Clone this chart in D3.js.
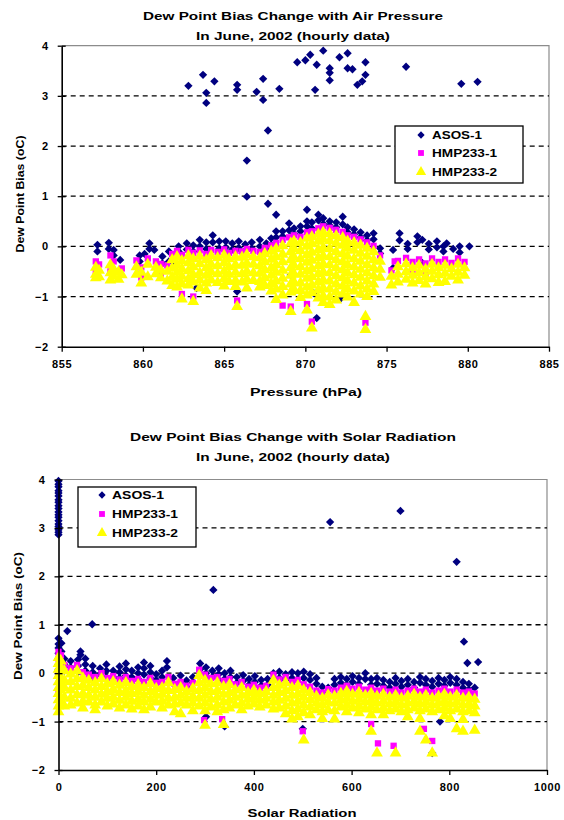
<!DOCTYPE html>
<html>
<head>
<meta charset="utf-8">
<script src="https://cdn.jsdelivr.net/npm/d3@7"></script>
<style>
  body { margin: 0; background: #fff; }
  svg { display: block; font-family: "Liberation Sans", Arial, sans-serif; font-weight: bold; }
</style>
</head>
<body>
<script>
// dew point bias scatter, two panels (pressure / solar radiation)
const pressureTicks = [855, 860, 865, 870, 875, 880, 885];
const radiationTicks = [0, 200, 400, 600, 800, 1000];
const biasTicks = [-2, -1, 0, 1, 2, 3, 4];
const seriesNames = ["ASOS-1", "HMP233-1", "HMP233-2"];

// each entry: [x, [bias values read at that x]]
const asosPres = [
  [857.2, [0.03, -0.1]], [857.9, [0.07, -0.05]], [858.2, [-0.07, -0.18]], [858.6, [-0.27]],
  [859.8, [-0.3, -0.18]], [860.1, [-0.15]], [860.4, [0.06, -0.05]], [860.7, [-0.07]],
  [861.2, [-0.34, -0.2]], [861.6, [-0.1, -0.3]], [861.9, [-0.3, -0.18]],
  [862.2, [0.0, -0.1]], [862.7, [0.06, -0.06]], [863.1, [0.02, -0.1]], [863.5, [0.13, 0.0]],
  [863.9, [0.08, -0.05]], [864.3, [0.22, 0.08]], [864.7, [0.1, -0.04]], [865.1, [0.1, -0.02]],
  [865.5, [0.06, -0.06]], [865.9, [0.1, -0.03]], [866.3, [0.04, -0.08]], [866.7, [0.08, -0.04]],
  [867.2, [0.13, 0.0]], [867.6, [0.06, -0.06]], [867.9, [0.16, 0.03]],
  [868.2, [0.63, 0.3, 0.18]], [868.6, [0.3, 0.2]], [869.0, [0.46, 0.32]], [869.3, [0.36, 0.25]],
  [869.7, [0.4, 0.3]], [870.1, [0.73, 0.5, 0.4]], [870.4, [0.48, 0.36]], [870.8, [0.63, 0.52]],
  [871.1, [0.56, 0.45]], [871.5, [0.5, 0.42]], [871.9, [0.48, 0.38]], [872.3, [0.59, 0.44]],
  [872.6, [0.38, 0.28]], [873.0, [0.34, 0.24]], [873.4, [0.28, 0.18]], [873.8, [0.22, 0.12]],
  [874.2, [0.26, 0.14]], [874.6, [-0.04, -0.14]],
  [875.4, [-0.43, -0.07]], [875.8, [0.26, 0.12]], [876.3, [0.05, -0.05]], [876.9, [0.2, 0.08]],
  [877.2, [-0.33, 0.13]], [877.6, [0.05, -0.06]], [878.1, [0.1, -0.02]], [878.5, [0.0, -0.1]],
  [878.7, [0.06]], [879.1, [-0.05]], [879.5, [0.0, -0.12]], [880.1, [0.0]],
  [863.3, [-0.83]], [865.8, [-0.9]], [869.1, [-0.57]], [870.5, [-0.93]], [870.7, [-1.43]], [872.2, [-1.03]],
  [862.8, [3.2]], [863.7, [3.42]], [863.9, [3.06, 2.86]], [864.4, [3.29]], [865.8, [3.22, 3.12]],
  [866.4, [1.71, 0.99]], [867.0, [3.08]], [867.4, [3.34, 2.92]], [867.7, [2.31, 0.85]], [868.4, [3.14]],
  [869.5, [3.67]], [870.0, [3.71]], [870.3, [3.82]], [870.6, [3.12]], [870.7, [3.62]], [871.1, [3.9]],
  [871.5, [3.55, 3.46, 3.31]], [872.1, [3.77]], [872.6, [3.85, 3.55]], [872.9, [3.53]], [873.2, [3.22]],
  [873.5, [3.29]], [873.7, [3.67, 3.42]], [876.2, [3.58]], [879.6, [3.24]], [880.6, [3.28]]
];

const hmp1Pres = [
  [857.1, [-0.3, -0.5]], [857.3, [-0.36]], [858.0, [-0.18, -0.5]], [858.2, [-0.3]], [858.5, [-0.5]], [858.7, [-0.44]],
  [859.6, [-0.28]], [859.9, [-0.42, -0.62]], [860.3, [-0.24]], [860.8, [-0.3]], [861.1, [-0.35, -0.55]],
  [861.5, [-0.38]], [861.8, [-0.15]],
  [862.1, [-0.09, -0.2]], [862.4, [-0.17, -0.95]], [862.8, [-0.07]], [863.1, [-0.13, -1.0]], [863.5, [-0.08]],
  [863.9, [-0.15]], [864.2, [-0.07]], [864.6, [-0.11]], [865.0, [-0.06]], [865.3, [-0.13]], [865.7, [-0.09]],
  [865.8, [-1.08]], [866.1, [-0.1]], [866.4, [-0.05]], [866.8, [-0.09]], [867.2, [-0.11]], [867.5, [-0.03]],
  [867.9, [0.02]], [868.2, [0.07]], [868.6, [0.13, -1.18]], [869.0, [0.18]], [869.1, [-1.2]], [869.3, [0.22]],
  [869.7, [0.19]], [870.1, [0.28, -1.15]], [870.4, [0.3, -1.5]], [870.8, [0.36]], [871.1, [0.4]],
  [871.5, [0.37]], [871.9, [0.33]], [872.3, [0.29]], [872.6, [0.22]], [873.0, [0.19]], [873.4, [0.14]],
  [873.7, [-1.52]], [873.8, [0.08]], [874.2, [0.01]], [874.6, [-0.18]],
  [875.3, [-0.48]], [875.5, [-0.3]], [875.7, [-0.29]], [876.2, [-0.23]], [876.6, [-0.31, -0.55]],
  [877.0, [-0.26]], [877.4, [-0.34, -0.55]], [877.8, [-0.24]], [878.2, [-0.31]], [878.6, [-0.26]],
  [879.0, [-0.33]], [879.4, [-0.24]], [879.8, [-0.31]]
];

const hmp2Pres = [
  [857.1, [-0.42, -0.56, -0.63]], [857.3, [-0.48, -0.61]], [858.0, [-0.37, -0.53, -0.67]], [858.2, [-0.46, -0.6]],
  [858.5, [-0.51, -0.66]], [858.7, [-0.57]], [859.6, [-0.41, -0.56]], [859.9, [-0.52, -0.73]],
  [860.3, [-0.36, -0.61]], [860.8, [-0.42, -0.55]], [861.1, [-0.47, -0.63]], [861.5, [-0.5, -0.69]],
  [861.8, [-0.27, -0.44, -0.62, -0.78]],
  [862.1, [-0.21, -0.37, -0.52, -0.66, -0.81]], [862.4, [-0.29, -0.45, -0.6, -0.75, -1.05]],
  [862.8, [-0.19, -0.33, -0.49, -0.65, -0.77]], [863.1, [-0.25, -0.41, -0.57, -0.71, -1.1]],
  [863.5, [-0.2, -0.35, -0.53, -0.67, -0.83]], [863.9, [-0.27, -0.43, -0.58, -0.73, -0.88]],
  [864.2, [-0.19, -0.36, -0.51, -0.67]], [864.6, [-0.23, -0.39, -0.55, -0.72]],
  [865.0, [-0.18, -0.33, -0.5, -0.65, -0.79]], [865.3, [-0.25, -0.41, -0.56, -0.7]],
  [865.7, [-0.21, -0.37, -0.52, -0.68, -0.8]], [865.8, [-1.2]], [866.1, [-0.22, -0.38, -0.55, -0.71]],
  [866.4, [-0.17, -0.34, -0.5, -0.66, -0.83]], [866.8, [-0.21, -0.36, -0.53, -0.68]],
  [867.2, [-0.23, -0.39, -0.54, -0.7, -0.81]], [867.5, [-0.15, -0.31, -0.47, -0.63, -0.78]],
  [867.9, [-0.1, -0.26, -0.43, -0.58, -0.74, -0.89]], [868.2, [-0.05, -0.21, -0.37, -0.52, -0.69, -0.85, -1.06]],
  [868.6, [0.01, -0.16, -0.31, -0.48, -0.64, -0.8, -0.97]], [869.1, [0.06, -0.11, -0.27, -0.43, -0.58, -0.75, -0.91, -1.3]],
  [869.3, [0.1, -0.05, -0.22, -0.38, -0.55, -0.71, -0.86]], [869.7, [0.07, -0.09, -0.25, -0.41, -0.56, -0.73, -0.88, -1.02]],
  [870.1, [0.16, 0.0, -0.17, -0.32, -0.49, -0.64, -0.81, -0.97, -1.27]],
  [870.4, [0.19, 0.05, -0.12, -0.28, -0.45, -0.61, -0.77, -0.92, -1.63]],
  [870.8, [0.24, 0.1, -0.07, -0.23, -0.39, -0.55, -0.71, -0.87, -1.03]],
  [871.1, [0.28, 0.14, -0.03, -0.19, -0.35, -0.51, -0.67, -0.83, -0.99, -1.12]],
  [871.5, [0.25, 0.11, -0.05, -0.21, -0.37, -0.53, -0.69, -0.85, -1.01, -1.16]],
  [871.9, [0.21, 0.06, -0.11, -0.27, -0.43, -0.59, -0.75, -0.91, -1.07]],
  [872.3, [0.17, 0.02, -0.15, -0.31, -0.47, -0.63, -0.79, -0.95]],
  [872.6, [0.1, -0.04, -0.2, -0.37, -0.53, -0.69, -0.85, -1.01]],
  [873.0, [0.07, -0.08, -0.25, -0.41, -0.57, -0.73, -0.89, -1.12]],
  [873.4, [0.02, -0.14, -0.3, -0.46, -0.62, -0.79, -0.95]], [873.7, [-1.4, -1.66]],
  [873.8, [-0.04, -0.2, -0.37, -0.53, -0.69, -0.85, -1.0]], [874.2, [-0.11, -0.27, -0.43, -0.59, -0.75, -0.9]],
  [874.6, [-0.3, -0.46, -0.62]],
  [875.3, [-0.6, -0.77]], [875.7, [-0.41, -0.56, -0.71]], [876.2, [-0.35, -0.51, -0.66]],
  [876.6, [-0.43, -0.58, -0.73]], [877.0, [-0.38, -0.53, -0.68]], [877.4, [-0.46, -0.61, -0.75]],
  [877.8, [-0.36, -0.5, -0.65]], [878.2, [-0.43, -0.57, -0.72]], [878.6, [-0.38, -0.54, -0.7]],
  [879.0, [-0.45, -0.6]], [879.4, [-0.36, -0.52, -0.67]], [879.8, [-0.43, -0.58]]
];

const asosSolar = [
  [0, [3.97, 3.9, 3.85, 3.77, 3.72, 3.66, 3.58, 3.53, 3.46, 3.4, 3.33, 3.27, 3.22, 3.15, 3.08, 3.03, 2.96, 2.91, 2.86]],
  [0, [0.72, 0.6, 0.52, 0.41, 0.3, 0.18, 0.08]],
  [6, [0.62, 0.45, 0.3]], [18, [0.87]], [12, [0.3, 0.18, 0.05]], [25, [0.25, 0.12]], [40, [0.28, 0.15, 0.02]],
  [45, [0.45, 0.38]], [55, [0.3, 0.18, 0.05]], [69, [1.01]], [70, [0.15, 0.02, -0.1]], [85, [0.1, -0.02]],
  [98, [0.18, 0.05, -0.08]], [112, [0.05, -0.08]], [125, [0.14, 0.02, -0.1]], [138, [0.2, 0.08, -0.05]],
  [150, [0.05, -0.08]], [163, [0.12, 0.0, -0.12]], [175, [0.22, 0.1, -0.03]], [188, [0.15, 0.02, -0.1]],
  [200, [-0.02, -0.14]], [212, [0.05, -0.08]], [222, [0.25, 0.12]], [235, [-0.1, -0.22]], [250, [-0.05, -0.18]],
  [262, [-0.15, -0.28]], [275, [-0.08, -0.2]], [290, [0.2, 0.08, -0.05]], [302, [0.12, 0.0, -0.12, -0.9]],
  [315, [0.05, -0.08]], [317, [1.72]], [328, [0.1, -0.02, -0.14]], [340, [0.0, -0.12, -1.1]], [352, [0.05, -0.08]],
  [365, [-0.08, -0.2]], [378, [-0.04, -0.16]], [390, [-0.12, -0.24]], [402, [-0.06, -0.18]], [415, [-0.14, -0.26]],
  [428, [-0.12, -0.24]], [440, [0.0, -0.12]], [452, [0.03, -0.1]], [465, [-0.02, -0.14]], [478, [0.02, -0.1]],
  [490, [0.0, -0.12]], [500, [-1.15]], [502, [0.03, -0.1]], [515, [-0.02, -0.14]], [528, [-0.1, -0.22]],
  [540, [-0.28, -0.4]], [552, [-0.3]], [556, [3.12]], [565, [-0.12, -0.24]], [578, [-0.08, -0.2]],
  [590, [-0.12, -0.24]], [602, [-0.06, -0.18]], [615, [-0.1, -0.22]], [628, [0.0, -0.12]], [640, [-0.12, -0.24]],
  [652, [-0.1, -0.22]], [665, [-0.14, -0.26]], [678, [-0.18, -0.3]], [690, [-0.1, -0.22]], [700, [3.35]],
  [702, [-0.16, -0.28]], [715, [-0.12, -0.24]], [728, [-0.18, -0.3]], [740, [-0.08, -0.2]], [752, [-0.12, -0.24]],
  [765, [-0.16, -0.28, -1.65]], [778, [-0.1, -0.22]], [781, [-1.0]], [790, [-0.14, -0.26]], [802, [-0.08, -0.2]],
  [815, [-0.12, -0.24, 2.3]], [828, [-0.18, -0.3]], [830, [0.65]], [837, [0.21]], [840, [-0.22, -0.34]],
  [852, [-0.3]], [859, [0.23]]
];

const hmp1Solar = [
  [0, [0.44, 0.3, 0.0, -0.4]], [5, [0.37]], [12, [0.17]], [25, [0.1]], [38, [0.17]], [50, [0.02]], [62, [-0.03]],
  [75, [-0.08]], [88, [0.0]], [100, [-0.1]], [112, [-0.06]], [125, [-0.13]], [138, [-0.08]], [150, [-0.16]],
  [163, [-0.12]], [175, [-0.18]], [188, [-0.1]], [200, [-0.2]], [212, [-0.18]], [225, [-0.08]], [238, [-0.22]],
  [250, [-0.18]], [262, [-0.26]], [275, [-0.2]], [288, [0.07]], [298, [-0.97]], [300, [-0.03]], [312, [-0.1]],
  [325, [-0.08]], [335, [-0.95]], [338, [-0.16]], [350, [-0.12]], [362, [-0.23]], [375, [-0.18]], [388, [-0.28]],
  [400, [-0.24]], [412, [-0.3]], [425, [-0.26]], [440, [-0.03]], [452, [-0.13]], [465, [-0.08]], [478, [-0.18]],
  [490, [-0.14]], [500, [-1.2]], [502, [-0.23]], [515, [-0.28]], [528, [-0.36]], [540, [-0.4]], [552, [-0.33]],
  [565, [-0.36]], [578, [-0.3]], [590, [-0.26]], [602, [-0.32]], [615, [-0.28]], [628, [-0.34]], [640, [-0.3, -1.05]],
  [652, [-0.36]], [654, [-1.45]], [665, [-0.32]], [678, [-0.38]], [686, [-1.5]], [690, [-0.34]], [702, [-0.4]],
  [715, [-0.36]], [728, [-0.32]], [740, [-0.38]], [748, [-1.15]], [752, [-0.34]], [765, [-0.4, -1.4]], [778, [-0.36]],
  [790, [-0.32]], [802, [-0.38]], [815, [-0.34]], [828, [-0.4]], [840, [-0.38]], [852, [-0.42]]
];

const hmp2Solar = [
  [0, [0.32, 0.2, 0.08, -0.05, -0.18, -0.3, -0.42, -0.55, -0.68, -0.8]], [5, [0.25, 0.1, -0.1, -0.35, -0.6]],
  [12, [0.05, -0.15, -0.3, -0.5, -0.68]], [25, [-0.02, -0.18, -0.35, -0.52, -0.66]], [38, [0.05, -0.12, -0.28, -0.45, -0.62]],
  [50, [-0.1, -0.25, -0.42, -0.58, -0.72]], [62, [-0.15, -0.3, -0.46, -0.6]], [75, [-0.2, -0.35, -0.5, -0.66, -0.76]],
  [88, [-0.12, -0.28, -0.44, -0.6]], [100, [-0.22, -0.38, -0.52, -0.68]], [112, [-0.18, -0.34, -0.5, -0.64]],
  [125, [-0.25, -0.4, -0.56, -0.72]], [138, [-0.2, -0.36, -0.5, -0.66]], [150, [-0.28, -0.42, -0.58, -0.74]],
  [163, [-0.24, -0.38, -0.54, -0.68]], [175, [-0.3, -0.46, -0.6, -0.76]], [188, [-0.22, -0.38, -0.54, -0.7]],
  [200, [-0.32, -0.46, -0.6]], [212, [-0.3, -0.44, -0.58, -0.72]], [225, [-0.2, -0.36, -0.52, -0.66]],
  [238, [-0.34, -0.5, -0.64, -0.8]], [250, [-0.3, -0.46, -0.62, -0.84]], [262, [-0.38, -0.52, -0.66]],
  [275, [-0.32, -0.48, -0.62, -0.78]], [288, [-0.05, -0.2, -0.36, -0.52, -0.68]],
  [300, [-0.15, -0.3, -0.46, -0.62, -0.78, -1.08]], [312, [-0.22, -0.38, -0.54, -0.7]],
  [325, [-0.2, -0.36, -0.5, -0.66, -0.8]], [338, [-0.28, -0.44, -0.6, -0.76, -1.06]], [350, [-0.24, -0.4, -0.56, -0.72]],
  [362, [-0.35, -0.5, -0.66]], [375, [-0.3, -0.46, -0.62, -0.76]], [388, [-0.4, -0.54, -0.68]], [400, [-0.36, -0.5, -0.64]],
  [412, [-0.42, -0.56, -0.7]], [425, [-0.38, -0.52, -0.66]], [440, [-0.15, -0.3, -0.46, -0.6, -0.74]],
  [452, [-0.25, -0.4, -0.56, -0.72]], [465, [-0.2, -0.36, -0.52, -0.68, -0.84]], [478, [-0.3, -0.46, -0.62, -0.78, -0.95]],
  [490, [-0.26, -0.42, -0.58, -0.74, -0.9]], [502, [-0.35, -0.5, -0.66, -0.82, -1.38]], [515, [-0.4, -0.55, -0.7, -0.86]],
  [528, [-0.48, -0.62, -0.76]], [540, [-0.52, -0.66, -0.8, -0.94]], [552, [-0.45, -0.6, -0.76]],
  [565, [-0.48, -0.62, -0.78, -0.95]], [578, [-0.42, -0.56, -0.7]], [590, [-0.38, -0.52, -0.66, -0.8]],
  [602, [-0.44, -0.58, -0.72]], [615, [-0.4, -0.54, -0.68, -0.82]], [628, [-0.46, -0.6, -0.74]],
  [640, [-0.42, -0.56, -0.7, -0.86, -1.2]], [652, [-0.48, -0.62, -0.76, -1.65]], [665, [-0.44, -0.58, -0.72, -0.86]],
  [678, [-0.5, -0.64, -0.78]], [690, [-0.46, -0.6, -0.74, -1.65]], [702, [-0.52, -0.66, -0.8]],
  [715, [-0.48, -0.62, -0.76, -0.9]], [728, [-0.44, -0.58, -0.72]], [740, [-0.5, -0.64, -0.78, -0.94, -1.2]],
  [752, [-0.46, -0.6, -0.74, -1.38]], [765, [-0.52, -0.66, -0.8, -1.65]], [778, [-0.48, -0.62, -0.76]],
  [790, [-0.44, -0.58, -0.72, -0.88]], [802, [-0.5, -0.64, -0.78, -0.94]], [815, [-0.46, -0.6, -0.74, -1.15]],
  [828, [-0.52, -0.66, -0.8, -0.96, -1.2]], [840, [-0.5, -0.64, -0.78]], [852, [-0.54, -0.68, -0.82, -1.18]]
];

const markerStyle = [
  { color: "#000080", type: d3.symbolDiamond2, size: 44 },
  { color: "#FF00FF", type: d3.symbolSquare,   size: 40 },
  { color: "#FFFF00", type: d3.symbolTriangle, size: 60 }
];
const legendSizes = [34, 34, 46];

const toPoints = cols => cols.flatMap(([x, ys]) => ys.map(v => [x, v]));

const W = 564, H = 820;
const svg = d3.select("body").append("svg").attr("width", W).attr("height", H);

function drawPanel(cfg) {
  const x = d3.scaleLinear().domain(cfg.xDomain).range(cfg.xRange);
  const y = d3.scaleLinear().domain([-2, 4]).range(cfg.yRange);
  const [x0, x1] = cfg.xRange, [y0, y1] = cfg.yRange;
  const g = svg.append("g");

  // title
  cfg.title.forEach((t, i) => {
    g.append("text")
      .attr("x", 293).attr("y", cfg.titleY[i])
      .attr("text-anchor", "middle").attr("font-size", 11.5)
      .attr("textLength", cfg.titleW[i]).attr("lengthAdjust", "spacingAndGlyphs")
      .text(t);
  });

  // frame top/right (grey)
  g.append("path")
    .attr("d", `M${x0},${y1}H${x1}V${y0}`)
    .attr("fill", "none").attr("stroke", "#8c8c8c").attr("stroke-width", 1.2);

  // dashed gridlines
  g.append("g").selectAll("line")
    .data(biasTicks.filter(v => v > -2 && v < 4))
    .join("line")
    .attr("x1", x0).attr("x2", x1)
    .attr("y1", d => y(d)).attr("y2", d => y(d))
    .attr("stroke", "#000").attr("stroke-width", 1.3)
    .attr("stroke-dasharray", "5,4");

  // points, yellow last so it sits on top
  cfg.series.forEach((cols, i) => {
    const st = markerStyle[i];
    const sym = d3.symbol().type(st.type).size(st.size)();
    g.append("g").selectAll("path")
      .data(toPoints(cols))
      .join("path")
      .attr("d", sym)
      .attr("transform", d => `translate(${x(d[0])},${y(d[1])})`)
      .attr("fill", st.color);
  });

  // axes
  const fmt = d3.format("d");
  const yAx = g.append("g").attr("transform", `translate(${x0},0)`)
    .call(d3.axisLeft(y).tickValues(biasTicks).tickFormat(fmt).tickSize(4).tickSizeOuter(0).tickPadding(cfg.yPad));
  g.append("g").attr("transform", `translate(${x0},0)`)
    .call(d3.axisRight(y).tickValues(biasTicks).tickSize(4).tickSizeOuter(0).tickFormat(""))
    .call(a => a.select(".domain").remove());
  const xAx = g.append("g").attr("transform", `translate(0,${y0})`)
    .call(d3.axisBottom(x).tickValues(cfg.xTicks).tickFormat(fmt).tickSize(5).tickSizeOuter(0).tickPadding(cfg.xPad));

  g.selectAll(".domain").attr("stroke", "#000").attr("stroke-width", 1.6);
  g.selectAll(".tick line").attr("stroke", "#000").attr("stroke-width", 1.3);
  [yAx, xAx].forEach(a => a.selectAll("text")
    .attr("font-family", '"Liberation Sans", Arial, sans-serif')
    .attr("font-weight", "bold").attr("font-size", 11)
    .attr("letter-spacing", 0.6).attr("fill", "#000"));

  // axis titles
  g.append("text")
    .attr("x", cfg.xLabelX).attr("y", cfg.xLabelY)
    .attr("text-anchor", "middle").attr("font-size", 11.5)
    .attr("textLength", cfg.xLabelW).attr("lengthAdjust", "spacingAndGlyphs")
    .text(cfg.xLabel);
  g.append("text")
    .attr("transform", `translate(${cfg.yLabelX},${cfg.yLabelY}) rotate(-90)`)
    .attr("text-anchor", "middle").attr("font-size", 11)
    .attr("textLength", cfg.yLabelW).attr("lengthAdjust", "spacingAndGlyphs")
    .text("Dew Point Bias (oC)");

  // legend
  const L = cfg.legend;
  const lg = g.append("g");
  lg.append("rect")
    .attr("x", L.x).attr("y", L.y).attr("width", L.w).attr("height", L.h)
    .attr("fill", "#fff").attr("stroke", "#000").attr("stroke-width", 1.3);
  seriesNames.forEach((name, i) => {
    const st = markerStyle[i];
    lg.append("path")
      .attr("d", d3.symbol().type(st.type).size(legendSizes[i])())
      .attr("transform", `translate(${L.markX},${L.rows[i]})`)
      .attr("fill", st.color);
    lg.append("text")
      .attr("x", L.textX).attr("y", L.rows[i]).attr("dy", "0.36em")
      .attr("font-size", 11).attr("textLength", L.textW[i]).attr("lengthAdjust", "spacingAndGlyphs")
      .text(name);
  });
}

drawPanel({
  title: ["Dew Point Bias Change with Air Pressure", "In June, 2002 (hourly data)"],
  titleY: [20, 40], titleW: [300, 194],
  xDomain: [855, 885], xRange: [61.7, 549], yRange: [346.7, 45.7],
  xTicks: pressureTicks, xPad: 9, yPad: 9,
  xLabel: "Pressure (hPa)", xLabelX: 306, xLabelY: 396, xLabelW: 112,
  yLabelX: 24, yLabelY: 194, yLabelW: 117,
  legend: { x: 395, y: 126, w: 128, h: 57, rows: [135, 153, 172], markX: 421, textX: 432, textW: [50, 65, 65] },
  series: [asosPres, hmp1Pres, hmp2Pres]
});

drawPanel({
  title: ["Dew Point Bias Change with Solar Radiation", "In June, 2002 (hourly data)"],
  titleY: [441, 461], titleW: [326, 194],
  xDomain: [0, 1000], xRange: [58.5, 547], yRange: [770, 479.5],
  xTicks: radiationTicks, xPad: 8, yPad: 9,
  xLabel: "Solar Radiation", xLabelX: 302, xLabelY: 817, xLabelW: 109,
  yLabelX: 22, yLabelY: 616, yLabelW: 128,
  legend: { x: 78, y: 487, w: 118, h: 60, rows: [495, 514, 533], markX: 102, textX: 112, textW: [52, 66, 66] },
  series: [asosSolar, hmp1Solar, hmp2Solar]
});
</script>
</body>
</html>
